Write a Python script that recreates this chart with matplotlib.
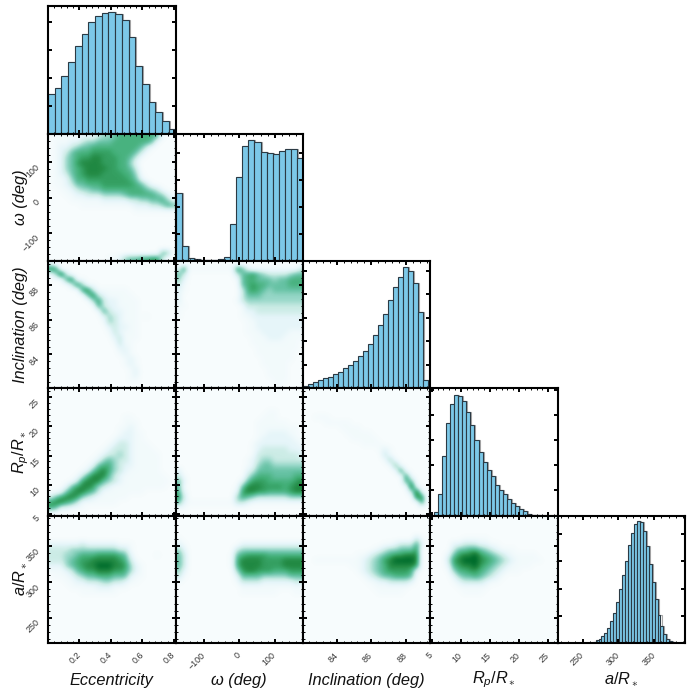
import numpy as np
import matplotlib
matplotlib.use('Agg')
import matplotlib.pyplot as plt
from matplotlib.ticker import AutoMinorLocator
from matplotlib.transforms import ScaledTranslation

plt.rcParams['font.family'] = ['Liberation Sans', 'DejaVu Sans']
plt.rcParams['mathtext.fontset'] = 'custom'
plt.rcParams['mathtext.rm'] = 'Liberation Sans'
plt.rcParams['mathtext.it'] = 'Liberation Sans:italic'

#--------axis ranges, ticks, labels
names = ['Eccentricity', 'ω (deg)', 'Inclination (deg)', r'$R_p/R_\ast$', r'$a/R_\ast$']
limits = [(0.0, 0.81), (-180, 180), (82.05, 89.4), (4.7, 26.6), (215, 393)]
ticks = [[0.2, 0.4, 0.6, 0.8], [-100, 0, 100], [84, 86, 88], [5, 10, 15, 20, 25], [250, 300, 350]]
tick_text = [['0.2', '0.4', '0.6', '0.8'], ['−100', '0', '100'], ['84', '86', '88'],
             ['5', '10', '15', '20', '25'], ['250', '300', '350']]

#--------histograms (heights on an arbitrary count scale, axis top = 380)
ecc_edges = (0.0, 0.81)
ecc_counts = [120, 138, 171, 213, 261, 298, 333, 350, 360, 361, 355, 339, 288, 202, 147, 94, 66, 39, 15]
omega_edges = (-180, 180)
omega_counts = [202, 45, 10, 7, 4, 3, 4, 7, 13, 112, 252, 343, 362, 355, 325, 323, 319, 330, 334, 334, 307]
inc_edges = (82.05, 89.3)
inc_counts = [5, 12, 18, 25, 29, 34, 42, 48, 59, 69, 82, 95, 111, 132, 159, 188, 222, 264, 303, 332, 362, 351,
              314, 228, 24]
rp_edges = (5.39, 23.46)
rp_counts = [10, 65, 176, 275, 332, 360, 357, 341, 309, 269, 225, 188, 158, 137, 117, 92, 76, 63, 48, 38, 29,
             18, 12, 5, 2, 1]
a_edges = (264, 379.4)
a_counts = [4, 8, 12, 20, 30, 44, 65, 90, 123, 160, 203, 245, 292, 327, 355, 363, 360, 335, 288, 235, 182, 130,
            84, 50, 27, 13, 5, 2]
hist_tick_step = [83, 81, 70, 75, 81]

#--------2d densities, rows run top to bottom, digits are density levels
level_shade = [0, 0.035, 0.12, 0.25, 0.38, 0.5, 0.6, 0.68, 0.76, 0.9]
omega_ecc = [
    '011111 222344 566666 665100',
    '011122 344555 666666 651000',
    '012234 556666 666665 310000',
    '012356 667777 666653 100000',
    '012456 778877 766531 000000',
    '012457 888877 766420 000000',
    '012456 788887 766530 000000',
    '012356 788877 776641 000000',
    '011246 677777 777652 000000',
    '011235 566677 777765 310000',
    '001123 445566 666666 543100',
    '000112 233344 445666 665421',
    '000011 111122 222334 455642',
    '000000 111111 111122 233465',
    '000000 000000 000011 111111',
    '000000 000000 000000 000000',
    '000000 000000 000000 000000',
    '000000 000000 000000 000000',
    '000000 000000 000000 000000',
    '000000 000000 000000 000000',
    '000000 000000 000000 000000',
    '000000 000000 000000 000000',
    '000000 000000 000000 000540',
    '000000 000001 124556 677300',
]
inc_ecc = [
    '200000 000000 000000 000000',
    '870000 000000 000000 000000',
    '149300 000000 000000 000000',
    '001681 100000 000000 000000',
    '000038 411000 000000 000000',
    '000000 783111 111000 000000',
    '000000 058321 111100 000000',
    '000000 004732 211110 000000',
    '000000 000632 211110 000000',
    '000000 000163 221110 000000',
    '000000 000024 321110 100000',
    '000000 000014 321110 000000',
    '000000 000002 322110 000000',
    '000000 000001 321110 000000',
    '000000 000000 231110 000000',
    '000000 000000 131100 000000',
    '000000 000000 022100 000000',
    '000000 000000 012100 000000',
    '000000 000000 001210 000000',
    '000000 000000 001210 000000',
    '000000 000000 000120 000000',
    '000000 000000 000120 000000',
    '000000 000000 000110 000000',
    '000000 000000 000000 000000',
]
inc_omega = [
    '000000 000000 000000 000000',
    '271111 111117 521111 111113',
    '530000 000003 567543 333455',
    '420000 000001 566555 455666',
    '310000 000000 567665 555666',
    '210000 000000 367654 555555',
    '200000 000000 355544 444444',
    '200000 000001 344444 444444',
    '110000 000000 133333 333333',
    '100000 000000 122333 333333',
    '100000 000000 112222 222222',
    '000000 000000 011222 222222',
    '000000 000000 011222 222222',
    '000000 000000 011122 222111',
    '000000 000000 001112 221111',
    '000000 000000 001111 111110',
    '000000 000000 000111 111110',
    '000000 000000 000111 111100',
    '000000 000000 000011 111100',
    '000000 000000 000011 111000',
    '000000 000000 000001 111000',
    '000000 000000 000001 111000',
    '000000 000000 000000 111000',
    '000000 000000 000000 010000',
]
rp_ecc = [
    '000000 000000 000000 000000',
    '000000 000000 000000 000000',
    '000000 000000 000000 000000',
    '000000 000000 000000 000000',
    '000000 000000 000000 000000',
    '000000 000000 001100 000000',
    '000000 000000 001110 000000',
    '000000 000000 011210 000000',
    '000000 000000 012211 000000',
    '000000 000000 122211 000000',
    '000000 000001 233211 100000',
    '000000 000012 333211 110000',
    '000000 000123 343211 111000',
    '000000 001245 433211 111000',
    '000000 012566 432211 111000',
    '000000 125786 432111 111000',
    '000001 368885 321111 111100',
    '000013 788854 321111 111110',
    '000257 887432 111111 111100',
    '012578 865311 111111 000000',
    '357887 432111 111000 000000',
    '788653 111111 100000 000000',
    '652211 100000 000000 000000',
    '000000 000000 000000 000000',
]
rp_omega = [
    '000000 000000 000000 000000',
    '000000 000000 000000 000000',
    '000000 000000 000000 000000',
    '000000 000000 000000 000000',
    '000000 000000 000001 100000',
    '000000 000000 000011 100000',
    '000000 000000 000111 111000',
    '000000 000000 000111 111110',
    '000000 000000 000112 222110',
    '000000 000000 000122 222211',
    '000000 000000 001222 222221',
    '000000 000000 001233 333222',
    '000000 000000 001333 333332',
    '000000 000000 012344 333333',
    '000000 000000 012455 444444',
    '200000 000000 023555 555555',
    '310000 000000 035666 555566',
    '520000 000000 257776 666678',
    '510000 000001 588877 776788',
    '620000 000002 788776 666788',
    '730000 000004 654333 333444',
    '521111 111113 321111 111111',
    '110000 000000 000000 000000',
    '000000 000000 000000 000000',
]
rp_inc = [
    '000000 000000 000000 000000',
    '000000 000000 000000 000000',
    '000000 000000 000000 000000',
    '000000 000000 000000 000000',
    '000000 000000 000000 000000',
    '001110 000000 000000 000000',
    '000011 111000 000000 000000',
    '000000 011110 000000 000000',
    '000000 001111 100000 000000',
    '000000 000111 110000 000000',
    '000000 000001 111000 000000',
    '000000 000000 001210 000000',
    '000000 000000 000310 000000',
    '000000 000000 000141 000000',
    '000000 000000 000015 100000',
    '000000 000000 000001 710000',
    '000000 000000 000000 171000',
    '000000 000000 000000 065000',
    '000000 000000 000000 019200',
    '000000 000000 000000 003920',
    '000000 000000 000000 000880',
    '000000 000000 000000 000060',
    '000000 000000 000000 000000',
    '000000 000000 000000 000000',
]
a_ecc = [
    '000000 000000 000000 000000',
    '000000 000000 000000 000000',
    '000000 000000 000000 000000',
    '000000 000000 000000 000000',
    '000000 000000 000000 000000',
    '222222 322222 211100 000000',
    '333344 444444 433100 000000',
    '333445 666777 765200 001000',
    '333456 778888 876310 000000',
    '222456 788999 887421 000000',
    '111235 677888 776421 000000',
    '011123 455666 555211 000000',
    '000112 233344 332110 000000',
    '000011 111222 111000 000000',
    '000000 111111 100000 000000',
    '000000 000000 000000 000000',
    '000000 000000 000000 000000',
    '000000 000000 000000 000000',
    '000000 000000 000000 000000',
    '000000 000000 000000 000000',
    '000000 000000 000000 000000',
    '000000 000000 000000 000000',
    '000000 000000 000000 000000',
    '000000 000000 000000 000000',
]
a_omega = [
    '000000 000000 000000 000000',
    '000000 000000 000000 000000',
    '000000 000000 000000 000000',
    '000000 000000 000000 000000',
    '100000 000000 000000 000000',
    '210000 000000 222222 222222',
    '420000 000003 444444 444444',
    '530000 000015 677776 666666',
    '530000 000016 888877 778888',
    '530000 000016 888877 778888',
    '420000 000004 788777 666777',
    '310000 000002 555544 444555',
    '100000 000001 333322 222233',
    '000000 000000 111111 111111',
    '000000 000000 111111 100011',
    '000000 000000 000000 000000',
    '000000 000000 000000 000000',
    '000000 000000 000000 000000',
    '000000 000000 000000 000000',
    '000000 000000 000000 000000',
    '000000 000000 000000 000000',
    '000000 000000 000000 000000',
    '000000 000000 000000 000000',
    '000000 000000 000000 000000',
]
a_inc = [
    '000000 000000 000000 000000',
    '000000 000000 000000 000000',
    '000000 000000 000000 000000',
    '000000 000000 000000 000000',
    '000000 000000 000000 000310',
    '000000 000000 000112 333620',
    '000000 000000 012344 555700',
    '000000 000011 234567 788800',
    '001111 111112 345789 999800',
    '000000 000112 345688 888700',
    '000000 000012 345677 776200',
    '000000 000001 234556 665000',
    '000000 000000 112233 332000',
    '000000 000000 011111 110000',
    '000000 000000 001111 100000',
    '000000 000000 000000 000000',
    '000000 000000 000000 000000',
    '000000 000000 000000 000000',
    '000000 000000 000000 000000',
    '000000 000000 000000 000000',
    '000000 000000 000000 000000',
    '000000 000000 000000 000000',
    '000000 000000 000000 000000',
    '000000 000000 000000 000000',
]
a_rp = [
    '000000 000000 000000 000000',
    '000000 000000 000000 000000',
    '000000 000000 000000 000000',
    '000000 000000 000000 000000',
    '000000 111110 000000 000000',
    '000022 333221 100000 000000',
    '000035 566543 211100 000000',
    '000257 889765 432111 110000',
    '000378 999876 543211 111000',
    '000267 889765 432111 100000',
    '000146 677654 321110 000000',
    '000024 556543 210000 000000',
    '000012 333321 100000 000000',
    '000001 111110 000000 000000',
    '000000 111100 000000 000000',
    '000000 000000 000000 000000',
    '000000 000000 000000 000000',
    '000000 000000 000000 000000',
    '000000 000000 000000 000000',
    '000000 000000 000000 000000',
    '000000 000000 000000 000000',
    '000000 000000 000000 000000',
    '000000 000000 000000 000000',
    '000000 000000 000000 000000',
]

hists = [(ecc_edges, ecc_counts), (omega_edges, omega_counts), (inc_edges, inc_counts),
         (rp_edges, rp_counts), (a_edges, a_counts)]
grids = {(1, 0): omega_ecc, (2, 0): inc_ecc, (2, 1): inc_omega, (3, 0): rp_ecc, (3, 1): rp_omega,
         (3, 2): rp_inc, (4, 0): a_ecc, (4, 1): a_omega, (4, 2): a_inc, (4, 3): a_rp}


#--------function
def to_cells(rows):
    return np.array([[level_shade[int(ch)] for ch in r.replace(' ', '')] for r in rows])


def style_axis(ax, row, col):
    for s in ax.spines.values():
        s.set_linewidth(1.5)
        s.set_zorder(5)
    ax.xaxis.set_minor_locator(AutoMinorLocator(5))
    ax.tick_params(which='major', direction='in', top=True, right=True, length=3, width=1.4,
                   labelsize=6.4, labelcolor='#333333', pad=4.7)
    ax.tick_params(which='minor', direction='in', top=True, right=True, length=1.2, width=0.7)
    ax.tick_params(axis='x', which='major', pad=5.5)
    ax.set_xlim(limits[col])
    ax.set_xticks(ticks[col])
    if row == 4:
        ax.set_xticklabels(tick_text[col], rotation=45, ha='right', va='top')
        nudge = ScaledTranslation(2.2 / 72, 0, fig.dpi_scale_trans)
        for lab in ax.get_xticklabels():
            lab.set_transform(lab.get_transform() + nudge)
    else:
        ax.set_xticklabels([])


W, H = 692.0, 692.0
x_px = [48, 175.5, 303, 430, 557.5, 685]
y_px = [6, 134, 261, 388, 515.5, 643]

fig = plt.figure(figsize=(W / 100, H / 100), dpi=100)
for row in range(5):
    for col in range(row + 1):
        ax = fig.add_axes([x_px[col] / W, 1 - y_px[row + 1] / H,
                           (x_px[col + 1] - x_px[col]) / W, (y_px[row + 1] - y_px[row]) / H])
        if row == col:
            (lo, hi), counts = hists[row]
            edges = np.linspace(lo, hi, len(counts) + 1)
            # soft grey edge just right of each bar
            shift = (limits[col][1] - limits[col][0]) / 127.0
            ax.bar(edges[:-1] + shift, counts, width=np.diff(edges), align='edge', color='none',
                   edgecolor='#a8a8a8', linewidth=0.8)
            ax.bar(edges[:-1], counts, width=np.diff(edges), align='edge', color='#7cc8e8',
                   edgecolor='#2b3a44', linewidth=0.8)
            style_axis(ax, row, col)
            ax.set_ylim(0, 380)
            ax.set_yticks(np.arange(hist_tick_step[row], 380, hist_tick_step[row]))
            ax.set_yticklabels([])
        else:
            ax.imshow(to_cells(grids[(row, col)]), cmap='BuGn', vmin=0, vmax=1, aspect='auto',
                      interpolation='bicubic', origin='upper',
                      extent=[limits[col][0], limits[col][1], limits[row][0], limits[row][1]])
            style_axis(ax, row, col)
            ax.yaxis.set_minor_locator(AutoMinorLocator(5))
            ax.set_ylim(limits[row])
            ax.set_yticks(ticks[row])
            if col == 0:
                ax.set_yticklabels(tick_text[row], rotation=45, ha='right', va='top')
            else:
                ax.set_yticklabels([])

for i, name in enumerate(names):
    fig.text((x_px[i] + x_px[i + 1]) / 2 / W, 1 - 680 / H, name, style='italic', fontsize=11.8,
             ha='center', va='center', color='#111111')
    if i > 0:
        fig.text(21 / W, 1 - (y_px[i] + y_px[i + 1]) / 2 / H, name, style='italic', fontsize=11.8,
                 ha='center', va='center', rotation=90, color='#111111')

plt.savefig('out.png', dpi=100)
